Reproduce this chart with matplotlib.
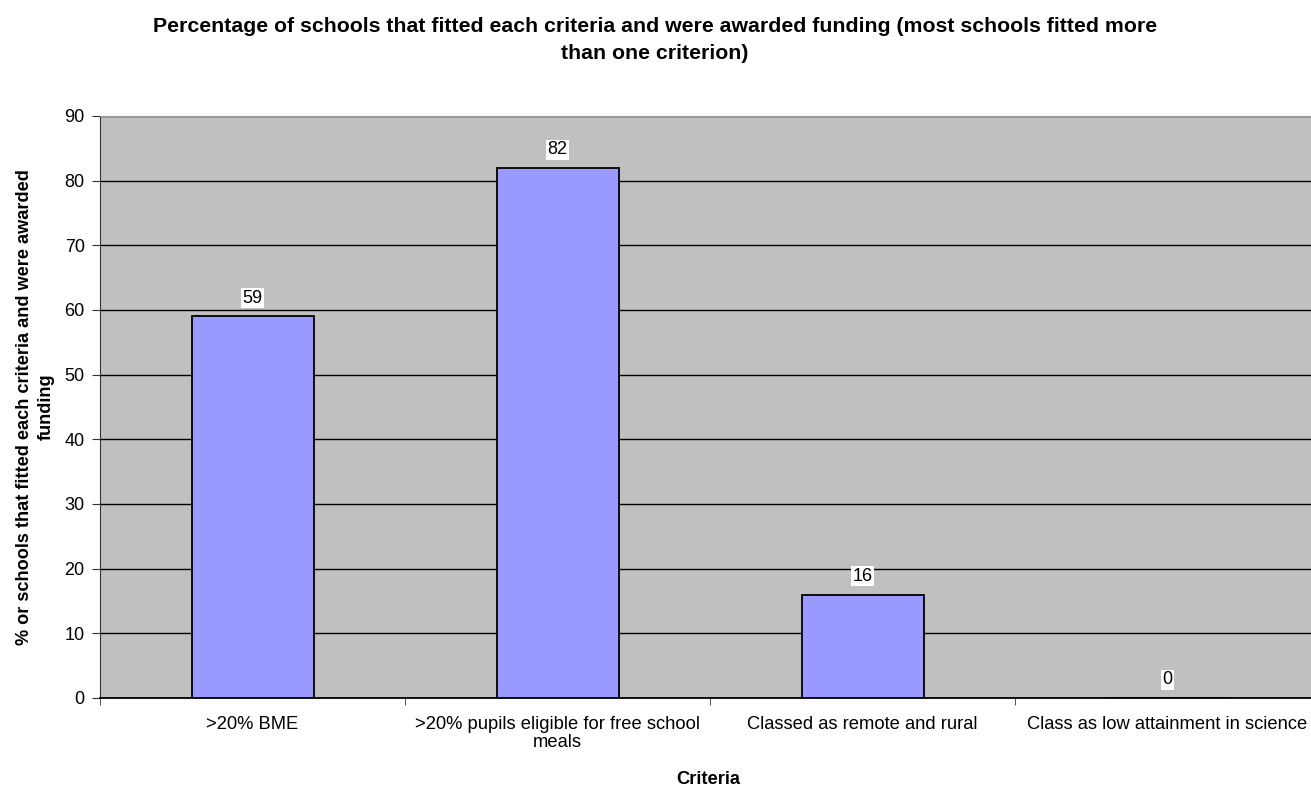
import matplotlib
matplotlib.use("Agg")
from matplotlib import pyplot as plt
import numpy

criteria = [">20% BME",
            ">20% pupils eligible for free school\nmeals",
            "Classed as remote and rural",
            "Class as low attainment in science"]
percent = [59, 82, 16, 0]
yticks = list(range(0, 100, 10))

plt.rcParams['font.family'] = ['Liberation Sans', 'DejaVu Sans']

fig = plt.figure(figsize=(13.11, 7.87), dpi=100)
# plot area runs a little past the right edge of the figure
ax = fig.add_axes([100/1311, 89/787, 1220/1311, 582/787])
ax.set_facecolor('#C0C0C0')

x = numpy.arange(len(criteria))
bars = ax.bar(x, percent, width=0.4, color='#9999FF', edgecolor='black',
              linewidth=1.3, zorder=3)

for b, v in zip(bars, percent):
    ax.text(b.get_x() + b.get_width()/2, v + 2.8, str(v), ha='center',
            va='center', fontsize=13, zorder=4,
            bbox=dict(facecolor='white', edgecolor='none', pad=1.0))

ax.set_xlim(-0.5, len(criteria) - 0.5)
ax.set_ylim(0, 90)
ax.set_yticks(yticks)
ax.set_yticklabels([str(t) for t in yticks], fontsize=13)
ax.yaxis.grid(True, color='black', linewidth=1, zorder=1)
ax.set_axisbelow(True)

ax.set_xticks(x)
ax.set_xticklabels(criteria, fontsize=13.2)
for t in ax.get_xticklabels():
    t.set_linespacing(1.1)
ax.tick_params(axis='x', length=0, pad=13)
ax.set_xticks(numpy.arange(-0.5, len(criteria), 1), minor=True)
ax.tick_params(axis='x', which='minor', length=5, color='#333333')
ax.tick_params(axis='y', length=6, color='#333333', pad=5)

ax.spines['top'].set_color('#999999')
ax.spines['left'].set_color('#333333')
ax.spines['bottom'].set_color('black')
ax.spines['bottom'].set_linewidth(1.3)

ax.set_ylabel("% or schools that fitted each criteria and were awarded\nfunding",
              fontsize=13.1, fontweight='bold', labelpad=7, linespacing=1.35)
fig.text(708/1311, 1 - 779/787, "Criteria", ha='center', va='center',
         fontsize=13.2, fontweight='bold')
fig.text(655/1311, 1 - 40/787,
         "Percentage of schools that fitted each criteria and were awarded funding (most schools fitted more\nthan one criterion)",
         ha='center', va='center', fontsize=15.3, fontweight='bold',
         linespacing=1.5)

fig.savefig("out.png", dpi=100)
